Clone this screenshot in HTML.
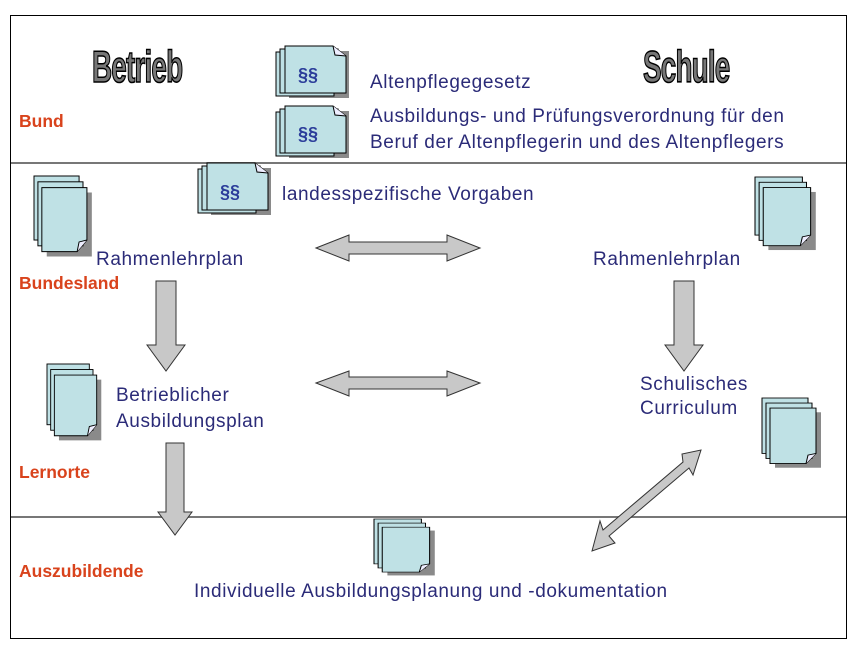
<!DOCTYPE html>
<html><head><meta charset="utf-8"><style>
body{margin:0;background:#fff}
svg{display:block}
.b{font-family:"Liberation Sans",sans-serif;fill:#2b2b78;font-size:19px;letter-spacing:0.6px}
.r{font-family:"Liberation Sans",sans-serif;fill:#d9431c;font-size:17.5px;font-weight:bold}
.h{font-family:"Liberation Sans",sans-serif;font-size:34px;font-weight:bold;fill:#777;stroke:#000;stroke-width:1.2;letter-spacing:-1px}
.p{font-family:"Liberation Sans",sans-serif;fill:#2b3d9a;font-size:18px;font-weight:bold}
</style></head><body>
<svg width="860" height="654" viewBox="0 0 860 654" xmlns="http://www.w3.org/2000/svg">
<defs>
<g id="port">
<rect x="13" y="17" width="46" height="66" fill="#8a8a8a"/>
<rect x="0" y="0" width="46" height="66" fill="#bfe1e5" stroke="#000"/>
<rect x="4" y="6" width="46" height="66" fill="#bfe1e5" stroke="#000"/>
<path d="M8 12 H54 V66 L44 78 H8 Z" fill="#bfe1e5" stroke="#000"/>
<path d="M44 78 L46 68 L54 66" fill="#eef" stroke="#000"/>
</g>
<g id="land">
<rect x="13" y="5" width="60" height="47" fill="#8a8a8a"/>
<rect x="0" y="6" width="58" height="44" fill="#bfe1e5" stroke="#000"/>
<rect x="4" y="3" width="58" height="44" fill="#bfe1e5" stroke="#000"/>
<path d="M9 0 H57 L70 10 V47 H9 Z" fill="#bfe1e5" stroke="#000"/>
<path d="M57 0 L59 9 L70 10" fill="#eef" stroke="#000"/>
</g>
</defs>
<rect x="10.5" y="15.5" width="836" height="623" fill="none" stroke="#000"/>
<line x1="11" y1="163" x2="846" y2="163" stroke="#777" stroke-width="2"/>
<line x1="11" y1="517" x2="846" y2="517" stroke="#777" stroke-width="2"/>

<text class="h" transform="translate(92,82) scale(0.82,1.3)">Betrieb</text>
<text class="h" transform="translate(643,82) scale(0.82,1.3)">Schule</text>

<text x="19" y="127" class="r">Bund</text>
<text x="19" y="289" class="r">Bundesland</text>
<text x="19" y="478" class="r">Lernorte</text>
<text x="19" y="577" class="r">Auszubildende</text>

<use href="#land" transform="translate(276,46)"/>
<text x="298" y="81" class="p">§§</text>
<use href="#land" transform="translate(276,106)"/>
<text x="298" y="140" class="p">§§</text>
<use href="#land" transform="translate(198,163)"/>
<text x="220" y="198" class="p">§§</text>

<use href="#port" transform="translate(34,176) scale(0.98,0.97)"/>
<use href="#port" transform="translate(755,177) scale(1.03,0.88)"/>
<use href="#port" transform="translate(47,364) scale(0.92,0.92)"/>
<use href="#port" transform="translate(762,398) scale(1.0,0.84)"/>
<use href="#port" transform="translate(374,519) scale(1.03,0.68)"/>

<text x="370" y="88" class="b">Altenpflegegesetz</text>
<text x="370" y="122" class="b">Ausbildungs- und Prüfungsverordnung für den</text>
<text x="370" y="148" class="b">Beruf der  Altenpflegerin und des Altenpflegers</text>
<text x="282" y="200" class="b">landesspezifische Vorgaben</text>
<text x="96" y="265" class="b">Rahmenlehrplan</text>
<text x="593" y="265" class="b">Rahmenlehrplan</text>
<text x="116" y="401" class="b">Betrieblicher</text>
<text x="116" y="427" class="b">Ausbildungsplan</text>
<text x="640" y="390" class="b">Schulisches</text>
<text x="640" y="414" class="b">Curriculum</text>
<text x="194" y="597" class="b">Individuelle Ausbildungsplanung und -dokumentation</text>

<g fill="#c8c8c8" stroke="#333" stroke-width="1">
<path d="M316 248 L349 235 V242 H447 V235 L480 248 L447 261 V254 H349 V261 Z"/>
<path d="M316 383 L349 371 V377 H447 V371 L480 383 L447 396 V389 H349 V396 Z"/>
<path d="M156 281 H176 V345 H185 L166 371 L147 345 H156 Z"/>
<path d="M674 281 H694 V345 H703 L684 371 L665 345 H674 Z"/>
<path d="M166 443 H184 V512 H192 L175 535 L158 512 H166 Z"/>
<path d="M592 551 L600 521 L603 530 L683 462 L682 454 L701 450 L693 475 L689 468 L609 536 L615 543 Z"/>
</g>
</svg>
</body></html>
